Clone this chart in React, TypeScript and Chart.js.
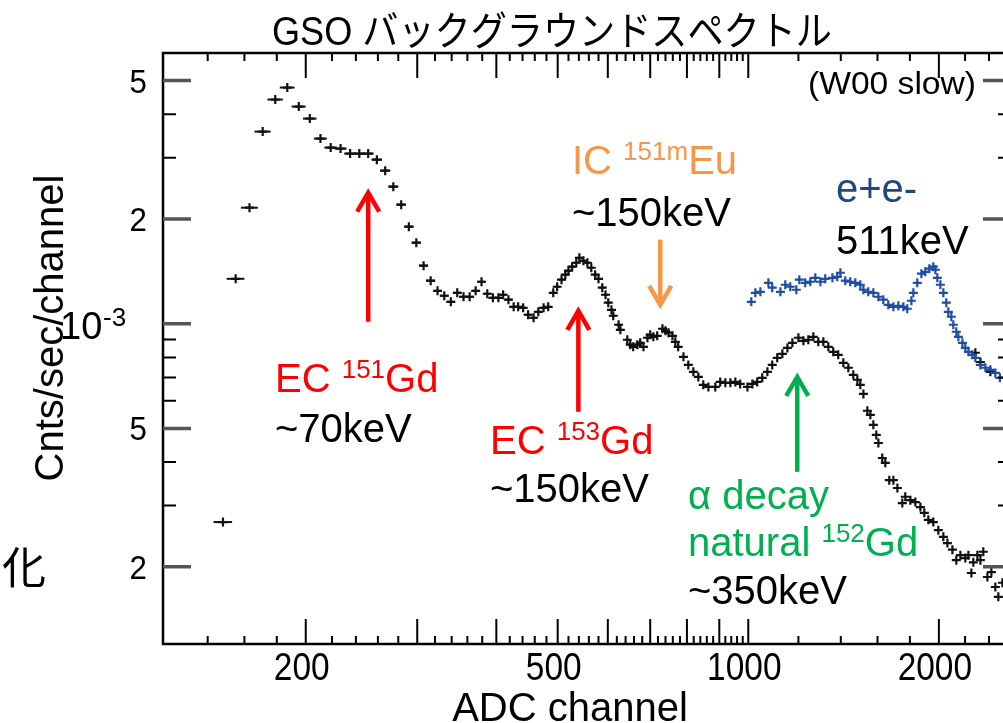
import { useEffect, useRef } from "react";
import { Chart, registerables } from "chart.js";

Chart.register(...registerables);

// Rates are given in units of 1e-3 counts/sec/channel.
const RATE_UNIT = 1e-3;
// Each spectrum bin spans this many ADC channels (drawn as the horizontal error bar).
const BIN_WIDTH = 10;

// GSO background spectrum (black)
const blackChannel = [
  148, 155, 163, 171, 179, 187, 195, 203, 211, 219,
  227, 235, 243, 251, 259, 267, 275, 283, 291, 299,
  307, 315, 323, 331, 339, 347, 355, 363, 371, 379,
  387, 395, 403, 410, 418, 426, 433, 441, 449, 458,
  466, 475, 483, 492, 499, 507, 514, 520, 527, 535,
  541, 549, 557, 565, 573, 580, 588, 595, 601, 608,
  612, 624, 628, 644, 651, 658, 668, 675, 683, 693,
  700, 708, 718, 732, 740, 748, 759, 767, 775, 790,
  804, 819, 834, 849, 865, 887, 903, 920, 937, 954,
  971, 997, 1015, 1033, 1052, 1072, 1091, 1111, 1132, 1153,
  1174, 1200, 1222, 1244, 1267, 1290, 1314, 1338, 1362, 1387,
  1413, 1439, 1465, 1487, 1503, 1520, 1542, 1559, 1576, 1593,
  1605, 1628, 1646, 1670, 1695, 1720, 1751, 1770, 1803, 1836,
  1870, 1897, 1925, 1960, 1996, 2033, 2063, 2101, 2131, 2163,
  2202, 2227, 2251, 2267, 2301, 2326, 2351, 2386, 2421, 2456,
  2483, 2520,
];
const blackRate = [
  0.269, 1.346, 2.155, 3.566, 4.409, 4.773, 4.209, 3.887, 3.405, 3.208,
  3.187, 3.083, 3.083, 3.083, 2.962, 2.754, 2.477, 2.199, 1.9, 1.709,
  1.468, 1.329, 1.243, 1.203, 1.156, 1.227, 1.195, 1.195, 1.243, 1.32,
  1.219, 1.187, 1.187, 1.211, 1.172, 1.118, 1.118, 1.111, 1.061, 1.04,
  1.082, 1.111, 1.118, 1.227, 1.277, 1.338, 1.383, 1.42, 1.458, 1.497,
  1.547, 1.517, 1.497, 1.448, 1.383, 1.346, 1.269, 1.211, 1.149, 1.096,
  1.054, 0.993, 0.96, 0.899, 0.87, 0.858, 0.87, 0.881, 0.858, 0.911,
  0.929, 0.917, 0.923, 0.967, 0.954, 0.942, 0.923, 0.887, 0.858, 0.803,
  0.761, 0.727, 0.703, 0.667, 0.658, 0.658, 0.68, 0.676, 0.676, 0.68,
  0.671, 0.658, 0.671, 0.68, 0.699, 0.727, 0.761, 0.798, 0.819, 0.852,
  0.881, 0.911, 0.893, 0.899, 0.917, 0.887, 0.887, 0.858, 0.83, 0.814,
  0.772, 0.747, 0.713, 0.69, 0.667, 0.628, 0.562, 0.547, 0.512, 0.479,
  0.454, 0.411, 0.398, 0.355, 0.355, 0.337, 0.305, 0.318, 0.311, 0.307,
  0.297, 0.286, 0.273, 0.269, 0.255, 0.244, 0.234, 0.224, 0.209, 0.216,
  0.212, 0.216, 0.192, 0.206, 0.216, 0.209, 0.221, 0.187, 0.193, 0.175,
  0.164, 0.18,
];

// A few black bins lying inside the blue band at high channel
const blackUpperChannel = [2284, 2326, 2412];
const blackUpperRate = [0.825, 0.776, 0.727];

// Second spectrum (blue) with the 511 keV feature
const blueChannel = [
  1011, 1026, 1045, 1076, 1091, 1124, 1144, 1165, 1191, 1204,
  1230, 1253, 1276, 1300, 1323, 1358, 1382, 1398, 1423, 1449,
  1476, 1503, 1520, 1547, 1576, 1605, 1634, 1664, 1695, 1726,
  1758, 1783, 1810, 1823, 1849, 1877, 1904, 1932, 1960, 1975,
  1989, 2011, 2033, 2055, 2070, 2093, 2108, 2131, 2147, 2179,
  2202, 2227, 2259, 2284, 2326, 2369, 2412, 2456, 2497,
];
const blueRate = [
  1.156, 1.227, 1.235, 1.311, 1.269, 1.235, 1.294, 1.277, 1.252, 1.338,
  1.311, 1.32, 1.355, 1.32, 1.346, 1.355, 1.364, 1.401, 1.329, 1.32,
  1.311, 1.294, 1.252, 1.235, 1.227, 1.195, 1.172, 1.133, 1.118, 1.126,
  1.118, 1.104, 1.164, 1.227, 1.311, 1.392, 1.41, 1.439, 1.458, 1.429,
  1.355, 1.294, 1.227, 1.149, 1.082, 1.047, 0.993, 0.948, 0.917, 0.881,
  0.852, 0.83, 0.814, 0.798, 0.761, 0.747, 0.737, 0.722, 0.699,
];

// Axis ranges and ticks
const X_MIN = 119;
const X_MAX = 2600;
const Y_MIN = 1.2e-4;
const Y_MAX = 6.0e-3;
const xMajorTicks = [200, 300, 400, 500, 600, 700, 800, 900, 1000, 2000];
const xMinorTicks = [
  140, 160, 180, 220, 240, 260, 280, 320, 340, 360, 380, 420, 440, 460, 480,
  520, 540, 560, 580, 620, 640, 660, 680, 720, 740, 760, 780, 820, 840, 860,
  880, 920, 940, 960, 980, 1200, 1400, 1600, 1800, 2200, 2400,
];
const xLabelTicks = [200, 500, 1000, 2000];
const xLabelText = ["200", "500", "1000", "2000"];
const yMajorTicks = [2e-4, 5e-4, 1e-3, 2e-3, 5e-3];
const yMinorTicks = [3e-4, 4e-4, 6e-4, 7e-4, 8e-4, 9e-4, 3e-3, 4e-3];
const yLabelTicks = [5e-3, 2e-3, 5e-4, 2e-4];
const yLabelText = ["5", "2", "5", "2"];

// Arrows marking the lines: [channel, tail rate, head rate] (rates in 1e-3 units)
const arrowEC151 = [251, 1.013, 2.381];
const arrowEC153 = [539, 0.558, 1.089];
const arrowIC151m = [726, 1.744, 1.133];
const arrowAlpha = [1195, 0.375, 0.703];

const RED = "#ff0000";
const ORANGE = "#f79646";
const GREEN = "#00b050";
const NAVY = "#1f497d";
const BLUE_PTS = "#1f4ea3";
const SANS = "'Liberation Sans', Arial, 'Noto Sans CJK JP', sans-serif";

type Part = { t: string; sup?: boolean };

function drawRich(ctx: CanvasRenderingContext2D, parts: Part[], x: number, y: number, size: number, color: string) {
  let cx = x;
  ctx.fillStyle = color;
  ctx.textAlign = "left";
  ctx.textBaseline = "alphabetic";
  for (const p of parts) {
    const fs = p.sup ? Math.round(size * 0.66) : size;
    ctx.font = `${fs}px ${SANS}`;
    ctx.fillText(p.t, cx, p.sup ? y - size * 0.36 : y);
    cx += ctx.measureText(p.t).width;
  }
}

function drawFitted(ctx: CanvasRenderingContext2D, text: string, x: number, y: number, width: number, align: CanvasTextAlign) {
  const w = ctx.measureText(text).width;
  ctx.save();
  ctx.translate(x, y);
  ctx.scale(width / w, 1);
  ctx.textAlign = align;
  ctx.fillText(text, 0, 0);
  ctx.restore();
}

function drawArrow(ctx: CanvasRenderingContext2D, x: number, yTail: number, yHead: number, color: string) {
  const dir = yHead < yTail ? 1 : -1; // 1: pointing up
  ctx.save();
  ctx.strokeStyle = color;
  ctx.lineWidth = 4.5;
  ctx.lineCap = "butt";
  ctx.lineJoin = "miter";
  ctx.beginPath();
  ctx.moveTo(x, yTail);
  ctx.lineTo(x, yHead + dir * 2);
  ctx.stroke();
  ctx.beginPath();
  ctx.moveTo(x - 11, yHead + dir * 19);
  ctx.lineTo(x, yHead);
  ctx.lineTo(x + 11, yHead + dir * 19);
  ctx.stroke();
  ctx.restore();
}

const decor = {
  id: "spectrumDecor",
  afterDatasetsDraw(chart: any) {
    const { ctx, chartArea } = chart;
    const xs = chart.scales.x;
    const ys = chart.scales.y;
    ctx.save();
    ctx.beginPath();
    ctx.rect(chartArea.left, chartArea.top, chartArea.right - chartArea.left, chartArea.bottom - chartArea.top);
    ctx.clip();
    chart.data.datasets.forEach((ds: any) => {
      ctx.strokeStyle = ds.borderColor;
      ctx.lineWidth = 2;
      ds.data.forEach((p: { x: number; y: number }) => {
        const y = ys.getPixelForValue(p.y);
        ctx.beginPath();
        ctx.moveTo(xs.getPixelForValue(p.x - BIN_WIDTH / 2), y);
        ctx.lineTo(xs.getPixelForValue(p.x + BIN_WIDTH / 2), y);
        ctx.stroke();
      });
    });
    ctx.restore();
  },
  afterDraw(chart: any) {
    const { ctx, chartArea } = chart;
    const { left, right, top, bottom } = chartArea;
    const xs = chart.scales.x;
    const ys = chart.scales.y;
    ctx.save();

    // frame
    ctx.strokeStyle = "#000";
    ctx.lineWidth = 2.5;
    ctx.strokeRect(left, top, right - left, bottom - top);

    // x ticks on bottom and top, pointing inwards
    ctx.lineWidth = 2;
    const xTick = (v: number, len: number) => {
      const px = xs.getPixelForValue(v);
      ctx.beginPath();
      ctx.moveTo(px, bottom);
      ctx.lineTo(px, bottom - len);
      ctx.moveTo(px, top);
      ctx.lineTo(px, top + len);
      ctx.stroke();
    };
    xMajorTicks.forEach((v) => xTick(v, 25));
    xMinorTicks.forEach((v) => xTick(v, 8));

    // y ticks on left and right
    const yTick = (v: number, len: number) => {
      const py = ys.getPixelForValue(v);
      ctx.beginPath();
      ctx.moveTo(left, py);
      ctx.lineTo(left + len, py);
      ctx.moveTo(right, py);
      ctx.lineTo(right - len, py);
      ctx.stroke();
    };
    ctx.strokeStyle = "#000";
    ctx.lineWidth = 2;
    yMinorTicks.forEach((v) => yTick(v, 13));
    ctx.strokeStyle = "#555";
    ctx.lineWidth = 3.5;
    yMajorTicks.forEach((v) => yTick(v, 28));

    // x tick labels (narrow face)
    ctx.fillStyle = "#000";
    ctx.textBaseline = "alphabetic";
    ctx.font = `38px ${SANS}`;
    xLabelTicks.forEach((v, i) => {
      const t = xLabelText[i];
      const w = ctx.measureText(t).width * 0.88;
      drawFitted(ctx, t, xs.getPixelForValue(v) - 4, 680, w, "center");
    });

    // y tick labels
    ctx.font = `34px ${SANS}`;
    ctx.textBaseline = "alphabetic";
    yLabelTicks.forEach((v, i) => {
      const t = yLabelText[i];
      const w = ctx.measureText(t).width * 0.92;
      drawFitted(ctx, t, 147, ys.getPixelForValue(v) + 12, w, "right");
    });
    const yDec = ys.getPixelForValue(1e-3);
    ctx.textAlign = "left";
    ctx.font = `38px ${SANS}`;
    ctx.fillText("10", 60, yDec + 15);
    ctx.font = `26px ${SANS}`;
    ctx.fillText("-3", 103, yDec + 2);

    // axis titles
    ctx.font = `40px ${SANS}`;
    ctx.textAlign = "center";
    ctx.fillText("ADC channel", 570, 721);
    ctx.save();
    ctx.translate(63, 328);
    ctx.rotate(-Math.PI / 2);
    ctx.fillText("Cnts/sec/channel", 0, 0);
    ctx.restore();

    // title
    ctx.font = `40px ${SANS}`;
    drawFitted(ctx, "GSO バックグラウンドスペクトル", 552, 45, 560, "center");

    // run tag
    ctx.font = `31px ${SANS}`;
    drawFitted(ctx, "(W00 slow)", 808, 94, 168, "left");

    // stray glyph at the left margin
    ctx.font = `44px 'Noto Sans CJK JP', sans-serif`;
    ctx.textAlign = "left";
    ctx.fillText("化", 2, 584);

    // arrows
    const arrow = (a: number[], color: string) =>
      drawArrow(ctx, xs.getPixelForValue(a[0]), ys.getPixelForValue(a[1] * RATE_UNIT), ys.getPixelForValue(a[2] * RATE_UNIT), color);
    arrow(arrowEC151, RED);
    arrow(arrowEC153, RED);
    arrow(arrowIC151m, ORANGE);
    arrow(arrowAlpha, GREEN);

    // line annotations
    const S = 40;
    drawRich(ctx, [{ t: "EC " }, { t: "151", sup: true }, { t: "Gd" }], 275, 392, S, RED);
    drawRich(ctx, [{ t: "~70keV" }], 275, 442, S, "#000");
    drawRich(ctx, [{ t: "EC " }, { t: "153", sup: true }, { t: "Gd" }], 490, 454, S, RED);
    drawRich(ctx, [{ t: "~150keV" }], 490, 502, S, "#000");
    drawRich(ctx, [{ t: "IC " }, { t: "151m", sup: true }, { t: "Eu" }], 572, 174, S, ORANGE);
    drawRich(ctx, [{ t: "~150keV" }], 572, 226, S, "#000");
    drawRich(ctx, [{ t: "e+e-" }], 836, 202, S, NAVY);
    drawRich(ctx, [{ t: "511keV" }], 836, 254, S, "#000");
    drawRich(ctx, [{ t: "α decay" }], 688, 509, S, GREEN);
    drawRich(ctx, [{ t: "natural " }, { t: "152", sup: true }, { t: "Gd" }], 688, 556, S, GREEN);
    drawRich(ctx, [{ t: "~350keV" }], 688, 604, S, "#000");

    ctx.restore();
  },
};

function toPoints(ch: number[], rate: number[]) {
  return ch.map((c, i) => ({ x: c, y: rate[i] * RATE_UNIT }));
}

export default function App() {
  const ref = useRef<HTMLCanvasElement>(null);

  useEffect(() => {
    if (!ref.current) return;
    const pointStyle = {
      pointStyle: "cross" as const,
      pointRadius: 4.5,
      pointBorderWidth: 2.2,
      showLine: false,
    };
    const chart = new Chart(ref.current, {
      type: "scatter",
      data: {
        datasets: [
          { label: "GSO", data: toPoints(blackChannel, blackRate), borderColor: "#111", backgroundColor: "#111", ...pointStyle },
          { label: "511", data: toPoints(blueChannel, blueRate), borderColor: BLUE_PTS, backgroundColor: BLUE_PTS, ...pointStyle },
          { label: "GSO high", data: toPoints(blackUpperChannel, blackUpperRate), borderColor: "#111", backgroundColor: "#111", ...pointStyle },
        ],
      },
      options: {
        responsive: false,
        maintainAspectRatio: false,
        animation: false,
        devicePixelRatio: 1,
        layout: { padding: { left: 163, top: 53, right: 9, bottom: 79 } },
        plugins: { legend: { display: false }, tooltip: { enabled: false }, title: { display: false } },
        scales: {
          x: { type: "logarithmic", min: X_MIN, max: X_MAX, display: false },
          y: { type: "logarithmic", min: Y_MIN, max: Y_MAX, display: false },
        },
      },
      plugins: [decor],
    });
    return () => chart.destroy();
  }, []);

  return (
    <div style={{ position: "fixed", left: 0, top: 0, width: 1003, height: 723, overflow: "hidden", background: "#fff" }}>
      <canvas ref={ref} width={1020} height={723} style={{ display: "block" }} />
    </div>
  );
}
